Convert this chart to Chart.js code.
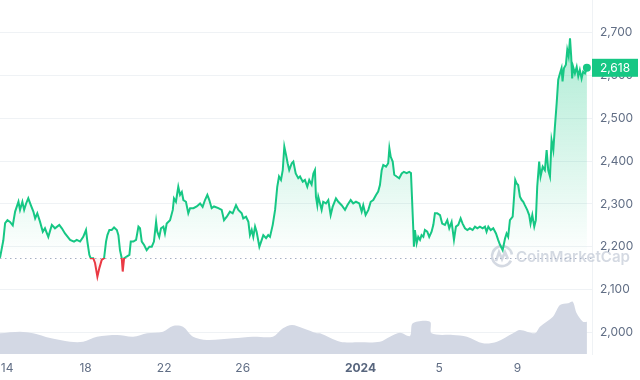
<!DOCTYPE html>
<html>
<head>
<meta charset="utf-8">
<script src="https://cdn.jsdelivr.net/npm/chart.js@4.4.1/dist/chart.umd.min.js"></script>
<style>
  html, body { margin: 0; padding: 0; background: #fff; }
  #wrap { width: 640px; height: 380px; position: relative; }
</style>
</head>
<body>
<div id="wrap"><canvas id="chart"></canvas></div>
<script>
// time in days since Dec 14 00:00 (2023)
const priceDays = [-0.36,-0.19,-0.10,0.02,0.15,0.29,0.41,0.58,0.66,0.78,0.87,0.97,1.08,1.21,1.34,1.43,1.54,1.68,1.82,1.93,2.10,2.28,2.44,2.66,2.79,2.95,3.21,3.41,3.55,3.72,3.88,4.02,4.09,4.19,4.26,4.39,4.48,4.60,4.70,4.82,4.94,5.04,5.11,5.21,5.33,5.45,5.59,5.67,5.75,5.84,5.89,5.96,6.09,6.23,6.30,6.43,6.57,6.69,6.77,6.86,6.98,7.11,7.25,7.37,7.48,7.59,7.65,7.75,7.84,7.96,8.04,8.13,8.30,8.44,8.50,8.60,8.72,8.81,8.90,8.98,9.11,9.23,9.32,9.49,9.66,9.83,9.96,10.08,10.20,10.30,10.42,10.54,10.76,10.93,11.05,11.19,11.35,11.49,11.66,11.78,11.95,12.03,12.17,12.29,12.37,12.46,12.54,12.63,12.71,12.85,12.97,13.05,13.19,13.30,13.39,13.53,13.65,13.76,13.85,13.95,14.04,14.12,14.21,14.29,14.37,14.50,14.58,14.70,14.83,14.92,15.06,15.17,15.29,15.39,15.51,15.60,15.68,15.73,15.80,15.85,15.94,16.02,16.10,16.24,16.36,16.48,16.58,16.75,16.87,17.04,17.21,17.33,17.50,17.63,17.77,17.94,18.06,18.14,18.26,18.40,18.52,18.65,18.79,18.90,18.99,19.08,19.16,19.30,19.41,19.47,19.54,19.64,19.72,19.84,19.97,20.10,20.21,20.35,20.48,20.57,20.62,20.69,20.72,20.77,20.86,20.94,21.03,21.11,21.20,21.28,21.40,21.50,21.62,21.71,21.79,21.91,22.05,22.16,22.30,22.42,22.52,22.64,22.76,22.86,22.98,23.10,23.20,23.32,23.44,23.57,23.71,23.83,23.95,24.08,24.22,24.34,24.42,24.51,24.63,24.76,24.90,25.01,25.10,25.24,25.36,25.44,25.52,25.61,25.75,25.81,25.88,25.95,26.03,26.12,26.21,26.29,26.37,26.49,26.59,26.66,26.75,26.85,26.93,27.00,27.10,27.17,27.28,27.39,27.48,27.56,27.65,27.73,27.82,27.90,27.99,28.07,28.16,28.24,28.29,28.36,28.46,28.53,28.60,28.67,28.73,28.78,28.83,28.92,29.01,29.09,29.17,29.26,29.34,29.43,29.53];
const priceValues = [2174,2215,2255,2262,2258,2250,2282,2305,2286,2305,2286,2301,2313,2297,2282,2266,2278,2258,2235,2243,2223,2251,2243,2251,2243,2231,2216,2212,2216,2212,2223,2239,2212,2181,2173,2173,2162,2130,2150,2169,2173,2212,2227,2239,2239,2245,2239,2227,2192,2173,2142,2173,2177,2181,2212,2212,2216,2247,2243,2212,2204,2192,2200,2200,2212,2258,2235,2223,2243,2247,2231,2254,2262,2286,2313,2305,2340,2321,2328,2309,2305,2278,2290,2290,2294,2301,2293,2309,2321,2309,2290,2294,2290,2286,2262,2270,2282,2278,2297,2286,2278,2266,2270,2258,2227,2239,2223,2247,2235,2200,2216,2227,2220,2227,2223,2251,2286,2340,2364,2356,2379,2434,2414,2395,2379,2395,2399,2371,2360,2364,2352,2356,2340,2356,2345,2371,2379,2317,2297,2317,2301,2286,2305,2301,2309,2274,2293,2313,2305,2297,2286,2297,2309,2301,2305,2301,2282,2297,2274,2286,2305,2309,2321,2329,2344,2379,2391,2387,2395,2430,2410,2399,2368,2364,2360,2371,2375,2372,2375,2372,2317,2239,2200,2239,2208,2223,2216,2227,2223,2239,2235,2223,2235,2251,2278,2278,2274,2254,2251,2262,2243,2258,2216,2247,2251,2266,2254,2243,2239,2243,2239,2247,2243,2247,2243,2247,2235,2247,2239,2243,2231,2216,2205,2192,2219,2231,2223,2262,2270,2309,2356,2348,2344,2317,2309,2305,2297,2286,2274,2254,2274,2247,2262,2340,2399,2364,2387,2379,2426,2379,2364,2449,2426,2480,2535,2590,2605,2617,2586,2617,2625,2660,2645,2687,2645,2593,2620,2605,2620,2598,2613,2593,2609,2605,2618];

// volume (billion USD, estimated)
const volumeDays = [-0.36,0.66,1.32,2.19,3.21,3.87,4.58,5.60,6.42,7.13,7.94,8.45,8.96,9.47,10.18,11.51,12.52,13.54,14.05,14.51,15.07,15.78,15.94,16.96,17.98,18.99,19.50,20.01,20.52,20.66,21.54,21.62,22.71,23.42,24.24,24.95,25.77,26.12,26.88,27.14,27.80,28.16,28.57,28.81,29.01,29.33,29.53];
const volumeValues = [14.5,15.6,14.5,11.2,8.6,8.6,12.1,13.3,12.1,14.5,15.6,19.6,19.1,12.1,9.8,11.0,12.1,12.1,18.0,20.3,18.0,14.5,14.5,8.6,8.2,8.6,12.1,14.9,12.6,21.5,22.6,14.5,13.3,12.1,7.5,8.6,14.5,16.8,14.5,19.1,26.1,34.3,35.5,36.6,28.5,22.6,22.6];

const tickDays = [0, 4, 8, 12, 18, 22, 26];
const tickLabels = ['14', '18', '22', '26', '2024', '5', '9'];
const priceTicks = [2000, 2100, 2200, 2300, 2400, 2500, 2600, 2700];

const openPrice = priceValues[0];
const lastPrice = priceValues[priceValues.length - 1];

const GREEN = '#16c784';
const RED = '#ea3943';
const FONT = 'Inter, "Noto Sans", sans-serif';

const toPoints = (xs, ys) => xs.map((x, i) => ({ x: x, y: ys[i] }));

// stroke: green above the opening price, red below
const lineColor = (context) => {
  const { ctx, chartArea, scales } = context.chart;
  if (!chartArea) return GREEN;
  const basePx = scales.y.getPixelForValue(openPrice);
  const f = Math.min(1, Math.max(0, (basePx - chartArea.top) / (chartArea.bottom - chartArea.top)));
  const g = ctx.createLinearGradient(0, chartArea.top, 0, chartArea.bottom);
  g.addColorStop(0, GREEN);
  g.addColorStop(f, GREEN);
  g.addColorStop(f, RED);
  g.addColorStop(1, RED);
  return g;
};

const areaColor = (context) => {
  const { ctx, chartArea, scales } = context.chart;
  if (!chartArea) return 'rgba(22,199,132,0.1)';
  const basePx = scales.y.getPixelForValue(openPrice);
  const topPx = scales.y.getPixelForValue(2650);
  const g = ctx.createLinearGradient(0, topPx, 0, chartArea.bottom);
  const f = (basePx - topPx) / (chartArea.bottom - topPx);
  g.addColorStop(0, 'rgba(22,199,132,0.32)');
  g.addColorStop(f, 'rgba(22,199,132,0.0)');
  g.addColorStop(f, 'rgba(234,57,67,0.05)');
  g.addColorStop(1, 'rgba(234,57,67,0.2)');
  return g;
};

// dotted opening-price line, watermark, price badge
const extras = {
  id: 'extras',
  beforeDatasetsDraw(chart) {
    const { ctx, chartArea, scales } = chart;
    const y = Math.round(scales.y.getPixelForValue(openPrice));
    ctx.save();
    ctx.strokeStyle = '#a6b0c3';
    ctx.lineWidth = 1;
    ctx.setLineDash([1.5, 3.5]);
    ctx.beginPath();
    ctx.moveTo(chartArea.left, y + 0.5);
    ctx.lineTo(chartArea.right, y + 0.5);
    ctx.stroke();
    ctx.setLineDash([]);

    // CoinMarketCap watermark
    const wx = chartArea.right - 90, wy = scales.y.getPixelForValue(2178);
    ctx.strokeStyle = 'rgba(160,170,190,0.45)';
    ctx.lineWidth = 2.6;
    ctx.beginPath();
    ctx.arc(wx, wy, 10, 0.15 * Math.PI, 1.95 * Math.PI);
    ctx.stroke();
    ctx.beginPath();
    ctx.moveTo(wx - 6, wy + 5);
    ctx.lineTo(wx - 3, wy - 4);
    ctx.lineTo(wx, wy + 3);
    ctx.lineTo(wx + 3, wy - 4);
    ctx.lineTo(wx + 6, wy + 3);
    ctx.stroke();
    ctx.fillStyle = 'rgba(160,170,190,0.45)';
    let size = 17;
    ctx.font = '600 ' + size + 'px ' + FONT;
    const w = ctx.measureText('CoinMarketCap').width;
    size = size * 114 / w;
    ctx.font = '600 ' + size.toFixed(1) + 'px ' + FONT;
    ctx.textBaseline = 'middle';
    ctx.textAlign = 'left';
    ctx.fillText('CoinMarketCap', wx + 14, wy + 1);
    ctx.restore();
  },
  afterDraw(chart) {
    const { ctx, chartArea, scales } = chart;
    const y = scales.y.getPixelForValue(lastPrice);
    ctx.save();
    ctx.fillStyle = GREEN;
    ctx.fillRect(chartArea.right, y - 9, 46, 18);
    ctx.fillStyle = '#ffffff';
    ctx.font = '12px ' + FONT;
    ctx.textAlign = 'center';
    ctx.textBaseline = 'middle';
    ctx.fillText(lastPrice.toLocaleString('en-US'), chartArea.right + 23, y + 0.5);
    ctx.restore();
  }
};

new Chart(document.getElementById('chart'), {
  type: 'line',
  data: {
    datasets: [
      {
        label: 'Price',
        data: toPoints(priceDays, priceValues),
        yAxisID: 'y',
        borderColor: lineColor,
        backgroundColor: areaColor,
        borderWidth: 2,
        fill: { target: { value: openPrice } },
        tension: 0,
        pointRadius: (c) => (c.dataIndex === priceValues.length - 1 ? 4 : 0),
        pointBackgroundColor: GREEN,
        pointBorderWidth: 0,
        order: 1
      },
      {
        label: 'Volume',
        data: toPoints(volumeDays, volumeValues),
        yAxisID: 'yv',
        borderWidth: 0,
        backgroundColor: '#d3d8e4',
        fill: 'origin',
        tension: 0.3,
        pointRadius: 0,
        order: 2
      }
    ]
  },
  options: {
    responsive: true,
    maintainAspectRatio: false,
    animation: false,
    devicePixelRatio: 1,
    layout: { padding: 0, autoPadding: false },
    plugins: { legend: { display: false }, tooltip: { enabled: false } },
    scales: {
      x: {
        type: 'linear',
        min: -0.36,
        max: 29.79,
        grid: { display: false, drawTicks: false },
        border: { display: false },
        afterBuildTicks: (scale) => { scale.ticks = tickDays.map(v => ({ value: v })); },
        afterFit: (scale) => { scale.height = 26; scale.paddingLeft = 0; scale.paddingRight = 0; },
        ticks: {
          autoSkip: false,
          maxRotation: 0,
          padding: 7,
          color: (c) => (c.tick && c.tick.value === 18 ? '#58667e' : '#616e85'),
          font: (c) => ({ family: FONT, size: 12, weight: c.tick && c.tick.value === 18 ? '700' : '400' }),
          callback: (v) => tickLabels[tickDays.indexOf(v)]
        }
      },
      y: {
        position: 'right',
        min: 1949.3,
        max: 2776.4,
        grid: { color: '#eff2f5', drawTicks: false },
        border: { display: true, color: '#eff2f5' },
        afterBuildTicks: (scale) => { scale.ticks = priceTicks.map(v => ({ value: v })); },
        afterFit: (scale) => { scale.width = 48; scale.paddingTop = 0; scale.paddingBottom = 0; },
        ticks: {
          padding: 8,
          color: '#616e85',
          font: { family: FONT, size: 12 },
          callback: (v) => v.toLocaleString('en-US')
        }
      },
      yv: {
        display: false,
        min: 0,
        max: 247.8
      }
    }
  },
  plugins: [extras]
});
</script>
</body>
</html>
